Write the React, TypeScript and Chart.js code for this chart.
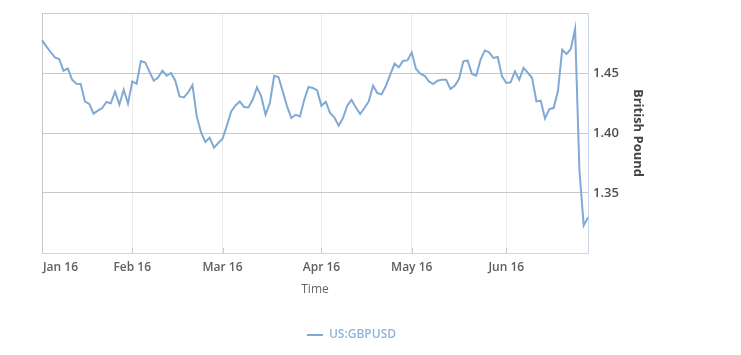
import React, { useEffect, useRef } from 'react';
import { Chart, registerables } from 'chart.js';

Chart.register(...registerables);

// ---------- data ----------
const FIRST_DAY = '2016-01-01';
const LAST_DAY = '2016-06-28';

function tradingDays(start: string, end: string): string[] {
  const out: string[] = [];
  const d = new Date(start + 'T00:00:00Z');
  const e = new Date(end + 'T00:00:00Z');
  while (d.getTime() <= e.getTime()) {
    const wd = d.getUTCDay();
    if (wd !== 0 && wd !== 6) out.push(d.toISOString().slice(0, 10));
    d.setUTCDate(d.getUTCDate() + 1);
  }
  return out;
}

const dates: string[] = tradingDays(FIRST_DAY, LAST_DAY);

const gbpusd: number[] = [
  1.4772, 1.4722, 1.4675, 1.4630, 1.4617, 1.4519, 1.4538, 1.4444, 1.4411, 1.4408,
  1.4261, 1.4242, 1.4161, 1.4186, 1.4208, 1.4258, 1.4247, 1.4344, 1.4236, 1.4361,
  1.4244, 1.4430, 1.4411, 1.4600, 1.4588, 1.4511, 1.4436, 1.4463, 1.4519, 1.4477,
  1.4500, 1.4436, 1.4305, 1.4297, 1.4338, 1.4400, 1.4138, 1.4005, 1.3925, 1.3961,
  1.3877, 1.3917, 1.3952, 1.4061, 1.4180, 1.4230, 1.4263, 1.4217, 1.4213, 1.4277,
  1.4380, 1.4305, 1.4152, 1.4250, 1.4477, 1.4467, 1.4347, 1.4222, 1.4125, 1.4152,
  1.4138, 1.4277, 1.4383, 1.4375, 1.4355, 1.4227, 1.4261, 1.4167, 1.4130, 1.4061,
  1.4125, 1.4227, 1.4277, 1.4213, 1.4158, 1.4208, 1.4263, 1.4394, 1.4333, 1.4322,
  1.4394, 1.4486, 1.4577, 1.4547, 1.4602, 1.4605, 1.4672, 1.4533, 1.4494, 1.4477,
  1.4430, 1.4408, 1.4436, 1.4444, 1.4444, 1.4367, 1.4394, 1.4450, 1.4597, 1.4605,
  1.4492, 1.4477, 1.4611, 1.4688, 1.4672, 1.4625, 1.4633, 1.4472, 1.4417, 1.4422,
  1.4513, 1.4444, 1.4542, 1.4503, 1.4458, 1.4263, 1.4269, 1.4122, 1.4200, 1.4208,
  1.4347, 1.4694, 1.4658, 1.4700, 1.4869, 1.3694, 1.3230, 1.3297,
];

const monthTickLabels: string[] = ['Jan 16', 'Feb 16', 'Mar 16', 'Apr 16', 'May 16', 'Jun 16'];
const yTickValues: number[] = [1.35, 1.4, 1.45];
const Y_MIN = 1.3;
const Y_MAX = 1.5;
const Y_STEP = 0.05;

const seriesName = 'US:GBPUSD';
const xTitle = 'Time';
const yTitle = 'British Pound';

// ---------- styles ----------
const FONT = '"Open Sans", "Liberation Sans", Arial, sans-serif';
const LINE_COLOR = '#80aad4';
const LEGEND_TEXT = '#8fb5d8';
const AXIS_LINE = '#ccd6eb';
const GRID_H = '#c8c8c8';
const GRID_V = '#ececec';

const monthStartIdx: number[] = dates
  .map((d, i) => (i === 0 || d.slice(0, 7) !== dates[i - 1].slice(0, 7) ? i : -1))
  .filter((i) => i >= 0);

const xLabelsPlugin = {
  id: 'xMonthLabels',
  afterDraw(chart: any) {
    const { ctx, chartArea, scales } = chart;
    const x = scales.x;
    ctx.save();
    // inner tick marks
    ctx.strokeStyle = '#c4ccd8';
    ctx.lineWidth = 1;
    monthStartIdx.forEach((idx) => {
      const px = Math.round(x.getPixelForValue(idx)) + 0.5;
      ctx.beginPath();
      ctx.moveTo(px, chartArea.bottom - 5);
      ctx.lineTo(px, chartArea.bottom);
      ctx.stroke();
    });
    // labels
    ctx.font = `600 12px ${FONT}`;
    ctx.fillStyle = '#606060';
    ctx.textBaseline = 'middle';
    ctx.textAlign = 'left';
    monthStartIdx.forEach((idx, k) => {
      const label = monthTickLabels[k];
      if (!label) return;
      const px = x.getPixelForValue(idx);
      const w = ctx.measureText(label).width;
      let left = px - w / 2;
      if (left < chartArea.left) left = chartArea.left + 1;
      if (left + w > chartArea.right) left = chartArea.right - w;
      ctx.fillText(label, left, chartArea.bottom + 15);
    });
    ctx.restore();
  },
};

const isYTick = (v: number) => yTickValues.some((t) => Math.abs(t - v) < 1e-6);

export default function App() {
  const canvasRef = useRef<HTMLCanvasElement | null>(null);

  useEffect(() => {
    if (!canvasRef.current) return;
    Chart.defaults.font.family = FONT;
    const chart = new Chart(canvasRef.current, {
      type: 'line',
      data: {
        labels: dates,
        datasets: [
          {
            label: seriesName,
            data: gbpusd,
            borderColor: LINE_COLOR,
            backgroundColor: LINE_COLOR,
            borderWidth: 2,
            pointRadius: 0,
            pointHoverRadius: 0,
            tension: 0,
            fill: false,
          },
        ],
      },
      options: {
        responsive: false,
        animation: false,
        layout: { padding: { left: 42, right: 80, top: 13, bottom: 4 } },
        plugins: {
          tooltip: { enabled: false },
          legend: {
            position: 'bottom',
            align: 'center',
            labels: {
              boxWidth: 16,
              boxHeight: 2,
              padding: 28,
              color: LEGEND_TEXT,
              font: { family: FONT, size: 12, weight: '600' },
              generateLabels: (c: any) =>
                Chart.defaults.plugins.legend.labels.generateLabels(c).map((l: any) => ({
                  ...l,
                  lineWidth: 0,
                  fillStyle: LINE_COLOR,
                  strokeStyle: LINE_COLOR,
                  fontColor: LEGEND_TEXT,
                })),
            },
          },
        },
        scales: {
          x: {
            type: 'category',
            offset: false,
            ticks: { display: false, autoSkip: false },
            grid: {
              drawTicks: false,
              color: (ctx: any) => {
                const i = ctx.index;
                if (!monthStartIdx.includes(i)) return 'rgba(0,0,0,0)';
                return i === 0 ? '#c4c4c4' : GRID_V;
              },
            },
            border: { color: AXIS_LINE, width: 1 },
            title: {
              display: true,
              text: xTitle,
              color: '#666666',
              font: { family: FONT, size: 12, weight: 'normal' },
              padding: { top: 0, bottom: 4 },
            },
            afterFit: (s: any) => {
              s.height = 48;
            },
          },
          y: {
            position: 'right',
            min: Y_MIN,
            max: Y_MAX,
            ticks: {
              stepSize: Y_STEP,
              padding: 5,
              color: '#505050',
              font: { family: FONT, size: 13, weight: '600' },
              callback: (v: any) => (isYTick(Number(v)) ? Number(v).toFixed(2) : ''),
            },
            grid: {
              drawTicks: false,
              color: (ctx: any) => {
                const v = ctx.tick ? ctx.tick.value : NaN;
                if (Math.abs(v - Y_MIN) < 1e-6) return 'rgba(0,0,0,0)';
                if (Math.abs(v - Y_MAX) < 1e-6) return '#cccccc';
                return GRID_H;
              },
            },
            border: { color: AXIS_LINE, width: 1 },
            title: {
              display: true,
              text: yTitle,
              color: '#444444',
              font: { family: FONT, size: 13, weight: 'bold' },
              padding: { top: 15, bottom: 0 },
            },
            afterFit: (s: any) => {
              s.width = 73;
            },
          },
        },
      },
      plugins: [xLabelsPlugin],
    } as any);
    return () => chart.destroy();
  }, []);

  return (
    <div style={{ position: 'fixed', left: 0, top: 0, width: 741, height: 355, background: '#ffffff' }}>
      <canvas ref={canvasRef} width={741} height={355} style={{ display: 'block' }} />
    </div>
  );
}
